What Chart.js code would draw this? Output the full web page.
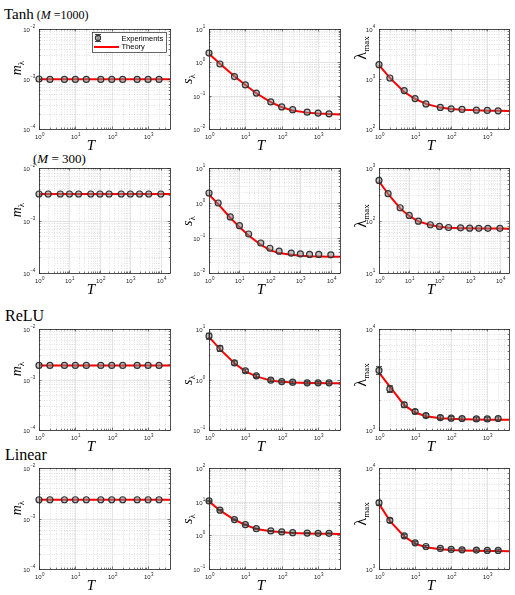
<!DOCTYPE html>
<html>
<head>
<meta charset="utf-8">
<title>m, s and lambda_max vs T</title>
<script src="https://cdn.jsdelivr.net/npm/chart.js@4.4.1/dist/chart.umd.min.js"></script>
<style>
  html, body { margin: 0; padding: 0; background: #fff; }
  #fig { position: relative; width: 515px; height: 595px; overflow: hidden; font-family: "Liberation Serif", serif; color: #000; }
  #fig canvas { position: absolute; }
  .txt { position: absolute; white-space: nowrap; line-height: 1; }
  .ylab { position: absolute; white-space: nowrap; line-height: 1; transform: translate(-50%, -50%) rotate(-90deg); }
  .xlab { position: absolute; transform: translate(-50%, -50%); font-style: italic; font-size: 15px; line-height: 1; }
  .ylab sub { font-size: 9px; vertical-align: -3px; font-style: normal; }
</style>
</head>
<body>
<div id="fig">
  <div class="txt" style="left:4px; top:6px;"><span style="font-size:15px">Tanh</span><span style="font-size:12px"> (<i>M</i> =1000)</span></div>
  <div class="txt" style="left:33px; top:152px; font-size:13px">(<i>M</i> = 300)</div>
  <div class="txt" style="left:5px; top:308px; font-size:16px">ReLU</div>
  <div class="txt" style="left:5px; top:447px; font-size:16px">Linear</div>
</div>
<script>
// sample sizes T
const T_A = [1, 2, 5, 10, 20, 50, 100, 200, 500, 1000, 2000];
const T_A_TH = [1, 2, 5, 10, 20, 50, 100, 200, 500, 1000, 2000, 4000];
const T_B = [1, 2, 5, 10, 20, 50, 100, 200, 500, 1000, 2000, 4000, 10000];
const T_B_TH = [1, 2, 5, 10, 20, 50, 100, 200, 500, 1000, 2000, 4000, 10000, 20000];

// Tanh, M = 1000
const tanh1000_m_exp = [0.001, 0.00098, 0.00098, 0.00098, 0.00098, 0.00098, 0.00098, 0.00098, 0.00098, 0.00098, 0.00098];
const tanh1000_m_th = [0.00099, 0.00099, 0.00099, 0.00099, 0.00099, 0.00099, 0.00099, 0.00099, 0.00099, 0.00099, 0.00099, 0.00099];
const tanh1000_s_exp = [1.89, 0.89, 0.375, 0.21, 0.12, 0.065, 0.046, 0.038, 0.032, 0.030, 0.0285];
const tanh1000_s_th = [1.8, 0.9, 0.38, 0.21, 0.118, 0.064, 0.045, 0.036, 0.031, 0.029, 0.028, 0.027];
const tanh1000_l_exp = [1930, 1047, 586, 406, 318, 270, 253, 246, 238, 235, 231];
const tanh1000_l_th = [1900, 1050, 550, 400, 318, 268, 250, 242, 236, 233, 231, 230];

// Tanh, M = 300
const tanh300_m_exp = [0.0032, 0.0032, 0.0032, 0.0032, 0.0032, 0.0032, 0.0032, 0.0032, 0.0032, 0.0032, 0.0032, 0.0032, 0.0032];
const tanh300_m_th = [0.0032, 0.0032, 0.0032, 0.0032, 0.0032, 0.0032, 0.0032, 0.0032, 0.0032, 0.0032, 0.0032, 0.0032, 0.0032, 0.0032];
const tanh300_s_exp = [1.93, 1.0, 0.40, 0.225, 0.13, 0.072, 0.051, 0.042, 0.037, 0.035, 0.034, 0.034, 0.033];
const tanh300_s_th = [1.75, 0.93, 0.38, 0.205, 0.118, 0.064, 0.045, 0.037, 0.033, 0.031, 0.030, 0.0295, 0.029, 0.029];
const tanh300_l_exp = [581, 324, 175, 125, 97, 83, 77, 73.5, 72.4, 71.3, 71, 71, 71];
const tanh300_l_th = [560, 320, 170, 122, 96, 82, 76, 73, 71.5, 71, 70.5, 70.3, 70.2, 70];

// ReLU
const relu_m_exp = [0.0019, 0.0019, 0.0019, 0.0019, 0.0019, 0.0019, 0.0019, 0.0019, 0.0019, 0.0019, 0.0019];
const relu_m_th = [0.0019, 0.0019, 0.0019, 0.0019, 0.0019, 0.0019, 0.0019, 0.0019, 0.0019, 0.0019, 0.0019, 0.0019];
const relu_s_exp = [7.26, 4.13, 2.14, 1.49, 1.18, 0.97, 0.91, 0.885, 0.86, 0.86, 0.86];
const relu_s_err = [1.0, 0.5, 0.2, 0.12, 0.08, 0.06, 0.05, 0.05, 0.05, 0.05, 0.05];
const relu_s_th = [7.0, 4.0, 2.1, 1.45, 1.15, 0.95, 0.9, 0.87, 0.855, 0.85, 0.847, 0.845];
const relu_l_exp = [3890, 2550, 1778, 1525, 1390, 1328, 1308, 1300, 1288, 1288, 1300];
const relu_l_err = [350, 200, 100, 70, 60, 55, 50, 50, 50, 50, 50];
const relu_l_th = [3700, 2690, 1760, 1490, 1370, 1310, 1290, 1280, 1270, 1265, 1262, 1260];

// Linear
const lin_m_exp = [0.00235, 0.00235, 0.00235, 0.00235, 0.00235, 0.00235, 0.00235, 0.00235, 0.00235, 0.00235, 0.00235];
const lin_m_th = [0.00235, 0.00235, 0.00235, 0.00235, 0.00235, 0.00235, 0.00235, 0.00235, 0.00235, 0.00235, 0.00235, 0.00235];
const lin_s_exp = [10.5, 5.6, 2.93, 2.08, 1.58, 1.35, 1.26, 1.2, 1.17, 1.15, 1.15];
const lin_s_err = [0.5, 0.25, 0.12, 0.07, 0.05, 0.04, 0.03, 0.03, 0.03, 0.03, 0.03];
const lin_s_th = [10.2, 5.5, 2.9, 2.05, 1.55, 1.32, 1.24, 1.18, 1.14, 1.12, 1.11, 1.10];
const lin_l_exp = [4530, 3036, 2128, 1815, 1671, 1597, 1561, 1550, 1538, 1527, 1527];
const lin_l_err = [250, 150, 80, 50, 40, 40, 40, 40, 40, 40, 40];
const lin_l_th = [4430, 3000, 2100, 1780, 1640, 1570, 1540, 1525, 1515, 1510, 1505, 1503];

const Y_LABELS = {
  m: '<i>m</i><sub>λ</sub>',
  s: '<i>s</i><sub>λ</sub>',
  l: '<span style="font-size:16px">λ</span><sub>max</sub>',
};

// plot boxes in page pixels
const ROWS = [{ top: 29, h: 100 }, { top: 168, h: 105 }, { top: 329, h: 101 }, { top: 468, h: 101 }];
const COLS = [{ left: 39, w: 131 }, { left: 209, w: 131 }, { left: 379, w: 130 }];
const PAD = { left: 38, top: 6, right: 6, bottom: 24 };

const panels = [
  { r: 0, c: 0, y: 'm', ymin: 1e-4, ymax: 1e-2, xmax: 4000, tx: T_A, ty: tanh1000_m_exp, thx: T_A_TH, thy: tanh1000_m_th, legend: true },
  { r: 0, c: 1, y: 's', ymin: 1e-2, ymax: 1e1, xmax: 4000, tx: T_A, ty: tanh1000_s_exp, thx: T_A_TH, thy: tanh1000_s_th },
  { r: 0, c: 2, y: 'l', ymin: 1e2, ymax: 1e4, xmax: 4000, tx: T_A, ty: tanh1000_l_exp, thx: T_A_TH, thy: tanh1000_l_th, ylabY: 48 },
  { r: 1, c: 0, y: 'm', ymin: 1e-4, ymax: 1e-2, xmax: 20000, tx: T_B, ty: tanh300_m_exp, thx: T_B_TH, thy: tanh300_m_th },
  { r: 1, c: 1, y: 's', ymin: 1e-2, ymax: 1e1, xmax: 20000, tx: T_B, ty: tanh300_s_exp, thx: T_B_TH, thy: tanh300_s_th },
  { r: 1, c: 2, y: 'l', ymin: 1e1, ymax: 1e3, xmax: 20000, tx: T_B, ty: tanh300_l_exp, thx: T_B_TH, thy: tanh300_l_th },
  { r: 2, c: 0, y: 'm', ymin: 1e-4, ymax: 1e-2, xmax: 4000, tx: T_A, ty: relu_m_exp, thx: T_A_TH, thy: relu_m_th },
  { r: 2, c: 1, y: 's', ymin: 1e-1, ymax: 1e1, xmax: 4000, tx: T_A, ty: relu_s_exp, err: relu_s_err, thx: T_A_TH, thy: relu_s_th },
  { r: 2, c: 2, y: 'l', ymin: 1e3, ymax: 1e4, xmax: 4000, tx: T_A, ty: relu_l_exp, err: relu_l_err, thx: T_A_TH, thy: relu_l_th },
  { r: 3, c: 0, y: 'm', ymin: 1e-4, ymax: 1e-2, xmax: 4000, tx: T_A, ty: lin_m_exp, thx: T_A_TH, thy: lin_m_th },
  { r: 3, c: 1, y: 's', ymin: 1e-1, ymax: 1e2, xmax: 4000, tx: T_A, ty: lin_s_exp, err: lin_s_err, thx: T_A_TH, thy: lin_s_th },
  { r: 3, c: 2, y: 'l', ymin: 1e3, ymax: 1e4, xmax: 4000, tx: T_A, ty: lin_l_exp, err: lin_l_err, thx: T_A_TH, thy: lin_l_th },
];

const INK = '#262626';

function logTicks(min, max) {
  const out = [];
  for (let e = Math.floor(Math.log10(min)); e <= Math.ceil(Math.log10(max)); e++) {
    for (let k = 1; k < 10; k++) {
      const v = k * Math.pow(10, e);
      if (v >= min * 0.999 && v <= max * 1.001) out.push({ v, major: k === 1, e });
    }
  }
  return out;
}

function seg(ctx, x1, y1, x2, y2) {
  ctx.beginPath();
  ctx.moveTo(x1, y1);
  ctx.lineTo(x2, y2);
  ctx.stroke();
}

function expLabel(ctx, e, cx, cy, align) {
  const ex = e < 0 ? '\u2212' + Math.abs(e) : String(e);
  ctx.font = '6px "Liberation Sans"';
  const w10 = ctx.measureText('10').width;
  ctx.font = '4.5px "Liberation Sans"';
  const we = ctx.measureText(ex).width;
  const x0 = align === 'right' ? cx - w10 - we : cx - (w10 + we) / 2;
  ctx.fillStyle = INK;
  ctx.textAlign = 'left';
  ctx.textBaseline = 'alphabetic';
  ctx.font = '6px "Liberation Sans"';
  ctx.fillText('10', x0, cy + 2.2);
  ctx.font = '4.5px "Liberation Sans"';
  ctx.fillText(ex, x0 + w10 + 0.3, cy - 1.3);
}

// MATLAB-like grid, box, inward ticks and 10^n labels
const matlabAxes = {
  id: 'matlabAxes',
  beforeDatasetsDraw(chart) {
    const { ctx, chartArea: a, scales: { x, y } } = chart;
    ctx.save();
    ctx.lineWidth = 0.6;
    const grid = (major) => {
      ctx.strokeStyle = major ? '#d4d4d4' : '#d0d0d0';
      ctx.setLineDash(major ? [] : [1, 1.5]);
    };
    logTicks(x.min, x.max).forEach((t) => {
      const px = Math.round(x.getPixelForValue(t.v)) + 0.5;
      grid(t.major);
      seg(ctx, px, a.top, px, a.bottom);
    });
    logTicks(y.min, y.max).forEach((t) => {
      const py = Math.round(y.getPixelForValue(t.v)) + 0.5;
      grid(t.major);
      seg(ctx, a.left, py, a.right, py);
    });
    ctx.restore();
  },
  afterDraw(chart) {
    const { ctx, chartArea: a, scales: { x, y } } = chart;
    ctx.save();
    ctx.strokeStyle = INK;
    ctx.lineWidth = 0.6;
    logTicks(x.min, x.max).forEach((t) => {
      const px = Math.round(x.getPixelForValue(t.v)) + 0.5;
      const len = t.major ? 2.5 : 1.4;
      seg(ctx, px, a.bottom, px, a.bottom - len);
      seg(ctx, px, a.top, px, a.top + len);
      if (t.major) expLabel(ctx, t.e, px, a.bottom + 8, 'center');
    });
    logTicks(y.min, y.max).forEach((t) => {
      const py = Math.round(y.getPixelForValue(t.v)) + 0.5;
      const len = t.major ? 2.5 : 1.4;
      seg(ctx, a.left, py, a.left + len, py);
      seg(ctx, a.right, py, a.right - len, py);
      if (t.major) expLabel(ctx, t.e, a.left - 4, py, 'right');
    });
    ctx.lineWidth = 0.8;
    ctx.strokeRect(Math.round(a.left) + 0.5, Math.round(a.top) + 0.5, Math.round(a.right - a.left), Math.round(a.bottom - a.top));
    ctx.restore();
  },
};

function drawErrBar(ctx, px, yTop, yBot) {
  seg(ctx, px, yTop, px, yBot);
  seg(ctx, px - 3, yTop, px + 3, yTop);
  seg(ctx, px - 3, yBot, px + 3, yBot);
}

const errorBars = {
  id: 'errorBars',
  afterDatasetsDraw(chart) {
    const { ctx, scales: { y } } = chart;
    chart.data.datasets.forEach((ds, i) => {
      if (!ds.errors) return;
      const meta = chart.getDatasetMeta(i);
      ctx.save();
      ctx.strokeStyle = '#333';
      ctx.lineWidth = 0.9;
      meta.data.forEach((pt, j) => {
        const v = ds.data[j].y;
        const e = ds.errors[j];
        drawErrBar(ctx, pt.x, y.getPixelForValue(v + e), y.getPixelForValue(Math.max(v - e, y.min)));
      });
      ctx.restore();
    });
  },
};

const legendBox = {
  id: 'legendBox',
  afterDraw(chart) {
    const { ctx, chartArea: a } = chart;
    const bx = Math.round(a.left) + 53, by = Math.round(a.top) + 3, bw = 74, bh = 20;
    ctx.save();
    ctx.fillStyle = '#fff';
    ctx.fillRect(bx, by, bw, bh);
    ctx.strokeStyle = INK;
    ctx.lineWidth = 0.7;
    ctx.strokeRect(bx + 0.5, by + 0.5, bw, bh);
    ctx.strokeStyle = '#333';
    ctx.lineWidth = 0.9;
    drawErrBar(ctx, bx + 6, by + 2.5, by + 9.5);
    ctx.beginPath();
    ctx.arc(bx + 6, by + 6, 2.6, 0, Math.PI * 2);
    ctx.fillStyle = 'rgba(140,140,140,0.55)';
    ctx.fill();
    ctx.lineWidth = 1.1;
    ctx.stroke();
    ctx.strokeStyle = '#ff0000';
    ctx.lineWidth = 2;
    seg(ctx, bx + 2, by + 15, bx + 27, by + 15);
    ctx.fillStyle = '#000';
    ctx.font = '7.5px "Liberation Sans"';
    ctx.textBaseline = 'middle';
    ctx.fillText('Experiments', bx + 29.5, by + 6.5);
    ctx.fillText('Theory', bx + 29.5, by + 15);
    ctx.restore();
  },
};

const fig = document.getElementById('fig');
const toPoints = (xs, ys) => xs.map((t, i) => ({ x: t, y: ys[i] }));

panels.forEach((p) => {
  const row = ROWS[p.r], col = COLS[p.c];
  const canvas = document.createElement('canvas');
  canvas.width = PAD.left + col.w + PAD.right;
  canvas.height = PAD.top + row.h + PAD.bottom;
  canvas.style.left = (col.left - PAD.left) + 'px';
  canvas.style.top = (row.top - PAD.top) + 'px';
  fig.appendChild(canvas);

  const plugins = [matlabAxes, errorBars];
  if (p.legend) plugins.push(legendBox);

  new Chart(canvas, {
    type: 'line',
    data: {
      datasets: [
        {
          label: 'Experiments',
          data: toPoints(p.tx, p.ty),
          errors: p.err,
          showLine: false,
          pointStyle: 'circle',
          pointRadius: 3,
          pointBorderWidth: 1.2,
          pointBorderColor: '#333',
          pointBackgroundColor: 'rgba(140,140,140,0.5)',
          clip: false,
          order: 0,
        },
        {
          label: 'Theory',
          data: toPoints(p.thx, p.thy),
          borderColor: '#ff0000',
          borderWidth: 2,
          pointRadius: 0,
          tension: 0,
          fill: false,
          clip: false,
          order: 1,
        },
      ],
    },
    options: {
      responsive: false,
      animation: false,
      events: [],
      layout: { padding: PAD },
      scales: {
        x: { type: 'logarithmic', min: 1, max: p.xmax, display: false },
        y: { type: 'logarithmic', min: p.ymin, max: p.ymax, display: false },
      },
      plugins: { legend: { display: false }, tooltip: { enabled: false } },
    },
    plugins: plugins,
  });

  // axis titles
  const yl = document.createElement('div');
  yl.className = 'ylab';
  yl.style.fontSize = '14px';
  yl.innerHTML = Y_LABELS[p.y];
  const dx = p.y === 'l' ? 17 : p.y === 'm' ? 21 : 20;
  const dy = p.y === 'm' ? -11 : p.y === 'l' ? -5 : 0;
  yl.style.left = (col.left - dx) + 'px';
  yl.style.top = (p.ylabY || (row.top + row.h / 2 + dy)) + 'px';
  fig.appendChild(yl);

  const xl = document.createElement('div');
  xl.className = 'xlab';
  xl.textContent = 'T';
  xl.style.left = (col.left + 52) + 'px';
  xl.style.top = (row.top + row.h + 16) + 'px';
  fig.appendChild(xl);
});
</script>
</body>
</html>
